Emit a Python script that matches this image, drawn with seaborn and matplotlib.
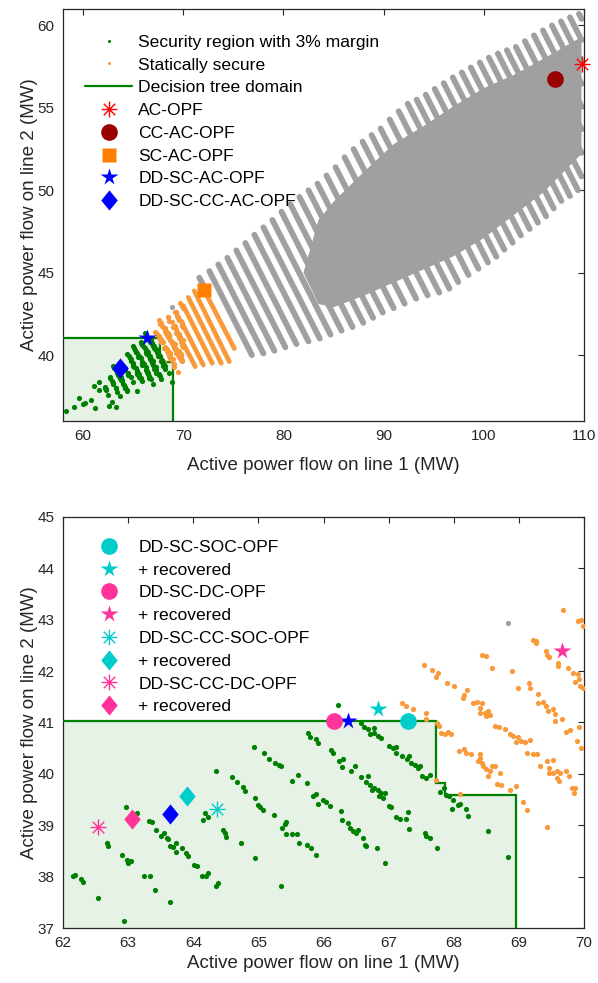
import matplotlib
matplotlib.use("Agg")
import numpy as np
import pandas as pd
import matplotlib.pyplot as plt
import seaborn as sns
from matplotlib.path import Path
from matplotlib.lines import Line2D
from matplotlib.collections import LineCollection

sns.set_style("white")
plt.rcParams["font.family"] = ["Liberation Sans", "DejaVu Sans"]
plt.rcParams["axes.unicode_minus"] = False

# ---------------- data ----------------
# operating points inside the security region with 3% margin
green_x = [62.18, 62.16, 62.27, 62.30, 62.53, 62.67, 62.69, 62.90, 62.99, 63.00, 63.04, 62.97, 63.14,
           62.93, 63.24, 63.33, 63.32, 63.37, 63.43, 63.50, 63.55, 63.59, 63.61, 63.64, 63.69, 63.74,
           63.74, 63.83, 63.89, 63.92, 64.01, 64.05, 63.42, 63.65, 64.14, 64.20, 64.23, 64.35, 64.38,
           64.15, 64.18, 64.23, 64.35, 64.46, 64.48, 64.50, 64.59, 64.67, 64.76, 64.79, 64.74, 64.95,
           64.99, 65.03, 65.07, 64.95, 64.94, 65.08, 65.17, 65.26, 65.32, 65.34, 65.24, 65.34, 65.37,
           65.41, 65.43, 65.42, 65.51, 65.60, 65.51, 65.61, 65.63, 65.75, 65.76, 65.79, 65.74, 65.81,
           65.89, 65.84, 65.89, 65.92, 65.89, 65.92,
           66.11, 66.15, 66.24, 66.29, 66.30, 66.42, 66.48, 66.58, 66.68, 66.66, 66.72, 66.77, 66.84,
           66.89, 66.74, 66.85, 66.92, 66.94, 67.00, 67.06, 67.12, 67.11, 67.20, 67.28, 67.32, 67.35,
           67.40, 67.45, 67.48, 67.52, 67.58, 67.64, 67.79, 67.85, 67.88, 67.93, 67.99, 67.98, 68.06,
           68.10, 68.19, 68.22, 68.53, 68.84, 65.99, 66.04, 66.10, 66.27, 66.29, 66.38, 66.41, 66.45,
           66.50, 66.53, 66.61, 66.63, 66.66, 66.82, 66.95, 67.00, 67.04, 67.11, 67.17, 67.27, 67.30,
           67.31, 67.56, 67.58, 67.64, 67.74,
           66.22, 66.58, 66.62, 66.68, 66.72, 66.77, 66.78, 66.84, 66.89,
           58.30, 59.13, 59.63, 59.96, 60.23, 60.80, 61.20, 61.06, 61.63, 61.63, 62.60, 63.26]
green_y = [38.04, 38.01, 37.95, 37.89, 37.58, 38.65, 38.59, 38.43, 38.32, 38.27, 38.30, 39.35, 39.24,
           37.14, 38.01, 38.01, 39.09, 39.06, 38.90, 38.80, 38.85, 38.75, 38.74, 38.59, 38.58, 38.65,
           38.47, 38.56, 38.46, 38.41, 38.22, 38.21, 37.73, 37.50, 38.02, 38.01, 38.07, 37.81, 37.88,
           39.11, 39.24, 39.16, 40.05, 38.91, 38.85, 38.77, 39.94, 39.84, 39.75, 39.66, 38.65, 39.53,
           39.40, 39.36, 39.30, 38.36, 40.53, 40.40, 40.29, 40.21, 40.18, 40.15, 39.19, 37.82, 38.95,
           39.02, 39.06, 38.83, 38.83, 38.83, 39.87, 39.97, 38.65, 39.82, 40.80, 40.72, 38.62, 38.56,
           38.43, 39.56, 39.60, 39.42, 40.67, 40.60,
           40.47, 40.40, 40.25, 40.14, 40.29, 40.05, 40.16, 39.94, 39.95, 39.84, 39.79, 39.73, 39.69,
           39.63, 39.69, 39.56, 39.53, 39.63, 40.54, 40.51, 40.53, 40.41, 40.34, 40.28, 40.34, 40.21,
           40.18, 40.12, 40.15, 39.95, 39.92, 39.97, 39.64, 39.72, 39.59, 39.56, 39.49, 39.32, 39.40,
           39.42, 39.32, 39.18, 38.89, 38.38, 39.49, 39.46, 39.38, 39.27, 39.11, 39.04, 38.95, 38.88,
           38.85, 38.91, 38.75, 38.62, 38.60, 38.56, 38.27, 39.38, 39.36, 39.17, 39.13, 39.12, 39.25,
           38.93, 38.85, 38.80, 38.76, 38.56,
           41.34, 40.99, 40.91, 40.87, 40.77, 40.90, 40.80, 40.73, 40.70,
           36.62, 36.87, 37.41, 37.01, 37.11, 37.27, 36.77, 38.13, 38.35, 37.88, 36.88, 36.86]

# statically secure operating points
orange_x = [69.67, 69.91, 69.96, 69.99, 69.21, 69.26, 69.27, 68.43, 68.50, 68.58, 68.90, 69.41, 69.43,
            69.47, 69.60, 69.60, 69.75, 69.83, 69.91, 69.86, 69.92, 69.94, 69.98,
            67.54, 67.66, 67.76, 67.73, 67.90, 68.00, 68.21, 68.15, 68.14, 68.29, 68.35, 68.43, 68.40,
            68.40, 68.48, 68.53, 68.55, 68.50, 68.99, 69.15, 69.17, 69.29, 69.30, 69.37, 69.42, 69.45,
            69.53, 69.55, 69.56, 69.66,
            68.63, 68.70, 68.79, 68.87, 68.91, 68.99, 68.96, 69.04, 69.10, 69.17, 69.12, 69.22, 69.28,
            69.73, 69.78, 69.93, 69.89, 69.95,
            67.20, 67.26, 67.37, 67.58, 67.57, 67.75, 67.78, 67.81, 67.87, 67.91, 67.96, 68.08, 68.16,
            68.19, 68.26, 68.41, 68.38, 68.41, 68.43, 68.45, 68.50, 68.56, 68.58, 68.63, 68.71, 68.53,
            68.66, 68.73, 68.86, 68.95, 69.07, 69.12, 69.43, 69.32, 69.43, 69.46, 69.53, 69.46, 69.53,
            69.58, 69.63, 69.59, 69.62, 69.73, 69.77, 69.81, 69.84, 69.86, 67.72, 68.09]
orange_y = [43.19, 42.98, 43.00, 42.88, 42.61, 42.59, 42.55, 42.31, 42.29, 42.07, 42.00, 42.39, 42.32,
            42.28, 42.15, 42.10, 42.07, 41.97, 41.94, 41.79, 41.84, 41.71, 41.68,
            42.12, 42.03, 41.96, 41.89, 41.76, 41.72, 41.64, 41.53, 41.48, 41.37, 41.40, 41.37, 41.29,
            41.19, 41.18, 41.22, 41.14, 41.12, 41.68, 41.77, 41.68, 41.56, 41.37, 41.40, 41.32, 41.22,
            41.27, 41.17, 41.03, 41.07,
            40.93, 40.92, 40.88, 40.77, 40.74, 40.72, 40.62, 40.64, 40.62, 40.66, 40.41, 40.38, 40.39,
            40.81, 40.86, 40.92, 40.64, 40.51,
            41.38, 41.32, 41.27, 41.18, 41.06, 40.99, 40.93, 40.80, 40.77, 40.81, 40.77, 40.44, 40.48,
            40.41, 40.38, 40.38, 40.25, 40.31, 40.22, 40.15, 40.10, 40.05, 40.15, 40.15, 40.01, 39.95,
            39.81, 39.79, 39.69, 39.77, 39.46, 39.29, 38.97, 40.15, 40.25, 40.12, 40.27, 40.02, 40.02,
            40.05, 40.02, 39.92, 39.86, 40.05, 39.96, 39.73, 39.63, 39.73, 39.89, 39.61]

# statically secure stripes beyond 70 MW (start/end of each stripe)
orange_seg_x0 = [70.0, 70.0, 70.0, 70.5, 71.1, 72.2]
orange_seg_y0 = [43.0, 41.8, 40.7, 43.5, 43.9, 43.8]
orange_seg_x1 = [72.9, 72.0, 71.2, 73.8, 74.6, 75.1]
orange_seg_y1 = [39.5, 39.4, 39.3, 39.5, 39.6, 40.4]

# insecure sampled points: stripe tips (upper end) and lower ends
grey_x0 = [71.6, 72.6, 73.5, 74.4, 75.3, 76.2, 77.1, 78.0, 78.9, 79.8, 80.7, 81.6, 82.5, 83.4, 84.3,
           85.2, 86.1, 87.0, 87.9, 88.8, 89.7, 90.6, 91.5, 92.4, 93.3, 94.2, 95.1, 96.0, 96.9, 97.8,
           98.7, 99.6, 100.5, 101.4, 102.3, 103.2, 104.1, 105.0, 105.9, 106.8, 107.7, 108.6, 109.5]
grey_y0 = [44.7, 45.1, 45.5, 45.9, 46.35, 46.8, 47.3, 47.75, 48.2, 48.7, 49.15, 49.6, 50.0, 50.4, 50.9,
           51.4, 52.0, 52.5, 52.95, 53.35, 53.75, 54.3, 54.8, 55.25, 55.5, 55.8, 56.15, 56.5, 56.85,
           57.15, 57.45, 57.75, 58.05, 58.3, 58.5, 58.7, 59.05, 59.4, 59.7, 60.0, 60.25, 60.5, 60.7]
grey_x1 = [72.3, 76.85, 78.0, 79.1, 80.2, 81.3, 82.5, 83.63, 84.7, 85.8, 86.9, 87.97, 88.95, 89.92,
           91.0, 92.1, 93.25, 94.4, 95.55, 96.57, 97.45, 98.48, 99.47, 100.42, 101.25, 102.05, 102.88,
           103.7, 104.58, 105.4, 106.22, 106.98, 107.75, 108.6, 109.4, 109.75, 109.75, 109.75, 109.75,
           109.75, 109.75, 109.75, 109.75]
grey_y1 = [43.9, 40.0, 40.1, 40.26, 40.47, 40.67, 40.83, 41.0, 41.24, 41.48, 41.7, 41.96, 42.26, 42.58,
           42.85, 43.12, 43.42, 43.62, 43.79, 44.03, 44.43, 44.86, 45.24, 45.62, 45.97, 46.4, 46.82,
           47.26, 47.65, 48.03, 48.42, 48.9, 49.35, 49.65, 50.0, 50.84, 52.27, 53.7, 55.08, 56.46,
           57.79, 59.12, 60.4]
# dense core of the insecure cloud
core_x = [82.0, 83.5, 85.0, 88.0, 91.0, 94.0, 97.0, 100.0, 103.0, 106.0, 109.75,
          109.75, 106.0, 103.0, 100.0, 97.0, 94.0, 91.0, 88.0, 85.0, 83.5]
core_y = [45.0, 48.2, 49.3, 51.1, 52.8, 53.9, 55.1, 56.2, 57.0, 58.0, 59.3,
          52.2, 49.9, 48.5, 47.1, 46.0, 45.2, 44.4, 43.6, 42.9, 43.1]
# isolated insecure point
grey_pt_x = [68.83]
grey_pt_y = [42.94]

# decision tree domain boundary
domain_x = [50.0, 67.72, 67.72, 67.86, 67.86, 68.95, 68.95]
domain_y = [41.03, 41.03, 39.82, 39.82, 39.59, 39.59, 30.0]

# OPF solutions (x, y)
sol_top = {
    "AC-OPF": (109.8, 57.65),
    "CC-AC-OPF": (107.1, 56.74),
    "SC-AC-OPF": (72.05, 43.94),
    "DD-SC-AC-OPF": (66.38, 41.03),
    "DD-SC-CC-AC-OPF": (63.65, 39.21),
}
sol_bottom = {
    "DD-SC-SOC-OPF": (67.30, 41.03),
    "DD-SC-SOC-OPF rec": (66.84, 41.27),
    "DD-SC-DC-OPF": (66.16, 41.03),
    "DD-SC-DC-OPF rec": (69.66, 42.40),
    "DD-SC-CC-SOC-OPF": (64.37, 39.32),
    "DD-SC-CC-SOC-OPF rec": (63.90, 39.56),
    "DD-SC-CC-DC-OPF": (62.54, 38.97),
    "DD-SC-CC-DC-OPF rec": (63.06, 39.12),
}

# ---------------- styles ----------------
GREEN = "#008000"
ORANGE = "#F99A3A"
GREY = "#A0A0A0"
AXC = "#262626"
CYAN = "#00CCCC"
PINK = "#FF3399"
BLUE = "#0000FF"

asterisk = Path([(-1, 0), (1, 0), (0, -1), (0, 1), (-0.72, -0.72), (0.72, 0.72), (-0.72, 0.72), (0.72, -0.72)],
                [Path.MOVETO, Path.LINETO] * 4)
diamond = Path([(0, 1), (0.82, 0), (0, -1), (-0.82, 0), (0, 1)],
               [Path.MOVETO, Path.LINETO, Path.LINETO, Path.LINETO, Path.CLOSEPOLY])


def mk(kind, color, ms):
    if kind == "ast":
        return dict(marker=asterisk, ms=ms, mfc="none", mec=color, mew=1.0, ls="none")
    if kind == "dia":
        return dict(marker=diamond, ms=ms, mfc=color, mec="none", ls="none")
    return dict(marker=kind, ms=ms, mfc=color, mec="none", ls="none")


style = {
    "AC-OPF": mk("ast", "#FF0000", 11.5),
    "CC-AC-OPF": mk("o", "#990000", 12),
    "SC-AC-OPF": mk("s", "#FF8000", 9.5),
    "DD-SC-AC-OPF": mk("*", BLUE, 13),
    "DD-SC-CC-AC-OPF": mk("dia", BLUE, 14.5),
    "DD-SC-SOC-OPF": mk("o", CYAN, 12),
    "DD-SC-SOC-OPF rec": mk("*", CYAN, 13),
    "DD-SC-DC-OPF": mk("o", PINK, 12),
    "DD-SC-DC-OPF rec": mk("*", PINK, 13),
    "DD-SC-CC-SOC-OPF": mk("ast", CYAN, 11.5),
    "DD-SC-CC-SOC-OPF rec": mk("dia", CYAN, 14.5),
    "DD-SC-CC-DC-OPF": mk("ast", PINK, 11.5),
    "DD-SC-CC-DC-OPF rec": mk("dia", PINK, 14.5),
}

green_df = pd.DataFrame({"p1": green_x, "p2": green_y})
orange_df = pd.DataFrame({"p1": orange_x, "p2": orange_y})
grey_df = pd.DataFrame({"p1": grey_pt_x, "p2": grey_pt_y})

fig = plt.figure(figsize=(5.98, 9.83), dpi=100)
ax1 = fig.add_axes([63 / 598, (983 - 421) / 983, 521 / 598, 412 / 983])
ax2 = fig.add_axes([63 / 598, (983 - 928) / 983, 521 / 598, 411 / 983])


def draw_domain(ax):
    fx = domain_x + [domain_x[0]]
    fy = domain_y + [domain_y[-1]]
    ax.fill(fx, fy, color=GREEN, alpha=0.1, lw=0, zorder=1)
    ax.plot(domain_x, domain_y, color=GREEN, lw=1.6, zorder=4, solid_joinstyle="miter")


def draw_points(ax, s):
    sns.scatterplot(data=grey_df, x="p1", y="p2", color=GREY, s=s, linewidth=0, ax=ax, legend=False, zorder=3)
    sns.scatterplot(data=orange_df, x="p1", y="p2", color=ORANGE, s=s, linewidth=0, ax=ax, legend=False, zorder=5)
    sns.scatterplot(data=green_df, x="p1", y="p2", color=GREEN, s=s, linewidth=0, ax=ax, legend=False, zorder=5)


def style_axes(ax, xlim, ylim, xticks, yticks, xpad):
    ax.set_xlim(*xlim)
    ax.set_ylim(*ylim)
    ax.set_xticks(xticks)
    ax.set_yticks(yticks)
    ax.tick_params(direction="in", top=True, right=True, length=4, width=0.8, labelsize=11,
                   colors=AXC, pad=6)
    for sp in ax.spines.values():
        sp.set_color(AXC)
        sp.set_linewidth(0.9)
    ax.set_xlabel("Active power flow on line 1 (MW)", fontsize=13.5, color=AXC, labelpad=xpad)
    ax.set_ylabel("Active power flow on line 2 (MW)", fontsize=13.5, color=AXC, labelpad=0)


# ---------- top panel ----------
draw_domain(ax1)
segs = [[(a, b), (c, d)] for a, b, c, d in zip(grey_x0, grey_y0, grey_x1, grey_y1)]
ax1.add_collection(LineCollection(segs, colors=GREY, linewidths=4.2, capstyle="round", zorder=2))
ax1.fill(core_x, core_y, color=GREY, lw=0, zorder=2)
osegs = [[(a, b), (c, d)] for a, b, c, d in zip(orange_seg_x0, orange_seg_y0, orange_seg_x1, orange_seg_y1)]
ax1.add_collection(LineCollection(osegs, colors=ORANGE, linewidths=3.4, capstyle="round", zorder=5))
draw_points(ax1, 14)
for name, (x, y) in sol_top.items():
    ax1.plot([x], [y], zorder=7, clip_on=False, **style[name])
style_axes(ax1, (58, 110), (36, 61), [60, 70, 80, 90, 100, 110], [40, 45, 50, 55, 60], 10)

h_top = [
    Line2D([], [], marker="o", ls="none", ms=2.2, mfc=GREEN, mec="none"),
    Line2D([], [], marker="o", ls="none", ms=2.2, mfc=ORANGE, mec="none"),
    Line2D([], [], color=GREEN, lw=1.6),
] + [Line2D([], [], **style[k]) for k in sol_top]
l_top = ["Security region with 3% margin", "Statically secure", "Decision tree domain",
         "AC-OPF", "CC-AC-OPF", "SC-AC-OPF", "DD-SC-AC-OPF", "DD-SC-CC-AC-OPF"]
ax1.legend(h_top, l_top, loc="upper left", bbox_to_anchor=(0.042, 0.938), frameon=False,
           fontsize=12.6, handlelength=2.7, handletextpad=0.35, labelspacing=0.43,
           borderpad=0, borderaxespad=0, labelcolor="#000000")

# ---------- bottom panel ----------
draw_domain(ax2)
draw_points(ax2, 14)
for name in ["DD-SC-AC-OPF", "DD-SC-CC-AC-OPF"]:
    x, y = sol_top[name]
    ax2.plot([x], [y], zorder=7, **style[name])
for name, (x, y) in sol_bottom.items():
    ax2.plot([x], [y], zorder=7, **style[name])
style_axes(ax2, (62, 70), (37, 45), list(range(62, 71)), list(range(37, 46)), 3)

h_bot = [Line2D([], [], **style[k]) for k in sol_bottom]
l_bot = ["DD-SC-SOC-OPF", "+ recovered", "DD-SC-DC-OPF", "+ recovered",
         "DD-SC-CC-SOC-OPF", "+ recovered", "DD-SC-CC-DC-OPF", "+ recovered"]
ax2.legend(h_bot, l_bot, loc="upper left", bbox_to_anchor=(0.042, 0.945), frameon=False,
           fontsize=12.6, handlelength=2.7, handletextpad=0.35, labelspacing=0.43,
           borderpad=0, borderaxespad=0, labelcolor="#000000")

fig.savefig("out.png", dpi=100)
